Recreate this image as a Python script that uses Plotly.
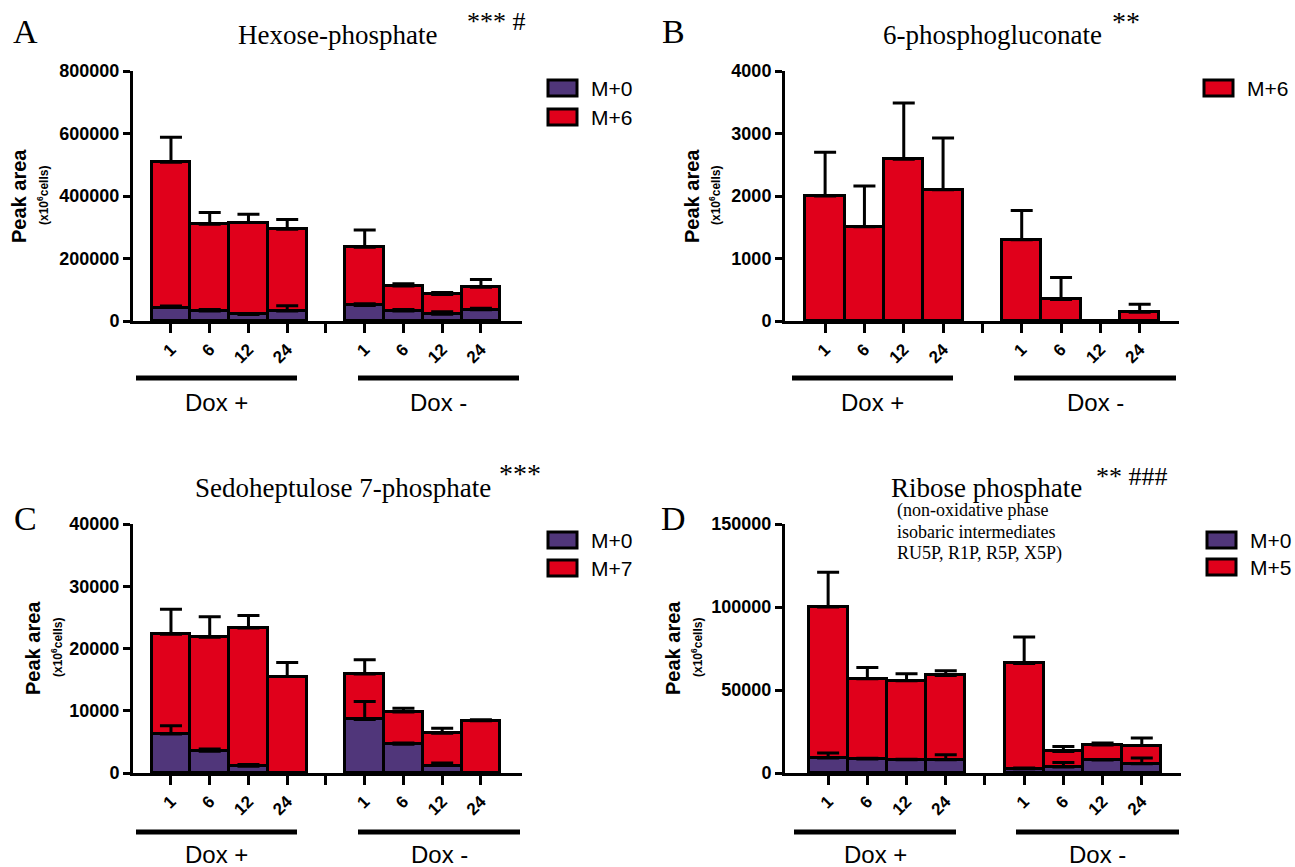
import plotly.graph_objects as go

# ---------------- data ----------------
times = ["1", "6", "12", "24"]
groups = ["Dox +", "Dox -"]

# Panel A: Hexose-phosphate (Dox+ 1,6,12,24 then Dox- 1,6,12,24)
hex_m0 = [43000, 32000, 21000, 32000, 50000, 32000, 22000, 36000]
hex_m0_err = [5000, 5000, 2000, 17000, 5000, 5000, 8000, 5000]
hex_m6 = [465000, 278000, 294000, 262000, 186000, 80000, 63000, 72000]
hex_m6_err = [80000, 37000, 27000, 31000, 55000, 7500, 6500, 25000]

# Panel B: 6-phosphogluconate
pg_m6 = [2000, 1510, 2590, 2100, 1300, 345, 0, 140]
pg_m6_err = [700, 650, 900, 830, 470, 350, 0, 130]

# Panel C: Sedoheptulose 7-phosphate
s7p_m0 = [6250, 3500, 1100, 0, 8600, 4600, 1200, 0]
s7p_m0_err = [1350, 350, 250, 0, 2900, 200, 400, 0]
s7p_m7 = [16050, 18300, 22200, 15500, 7300, 5200, 5200, 8400]
s7p_m7_err = [4000, 3300, 2000, 2250, 2300, 600, 800, 150]

# Panel D: Ribose phosphate
rib_m0 = [9000, 8400, 8000, 8000, 2600, 3600, 7800, 5600]
rib_m0_err = [3000, 500, 300, 3000, 400, 2800, 300, 3400]
rib_m5 = [91000, 48400, 47600, 50800, 63400, 9400, 9000, 10900]
rib_m5_err = [21000, 6800, 4200, 2800, 16000, 3000, 1200, 4600]

# ---------------- styling ----------------
W, H = 1295, 867
RED = "#E0001B"
PURPLE = "#50367A"
ARIAL = "Arial, Liberation Sans, sans-serif"
TIMES = "Times New Roman, Liberation Serif, serif"


def px(x):
    return x / W


def py(y):
    return 1 - y / H


# bar positions: Dox+ at 0..3, gap at 4, Dox- at 5..8
positions = [i for i in range(len(times))] + [i + len(times) + 1 for i in range(len(times))]
separator = len(times)

fig = go.Figure()


def add_bars(m0, m0_err, mh, mh_err, xa, ya):
    base = m0 if m0 is not None else [0] * len(mh)
    fig.add_trace(go.Bar(
        x=positions, y=mh, base=base, width=1,
        marker=dict(color=RED, line=dict(color="black", width=3)),
        error_y=dict(type="data", array=mh_err, symmetric=False,
                     arrayminus=[0] * len(mh), color="black", thickness=3, width=11),
        xaxis=xa, yaxis=ya, showlegend=False))
    if m0 is not None:
        fig.add_trace(go.Bar(
            x=positions, y=m0, width=1,
            marker=dict(color=PURPLE, line=dict(color="black", width=3)),
            error_y=dict(type="data", array=m0_err, symmetric=False,
                         arrayminus=[0] * len(m0), color="black", thickness=3, width=11),
            xaxis=xa, yaxis=ya, showlegend=False))


add_bars(hex_m0, hex_m0_err, hex_m6, hex_m6_err, "x", "y")
add_bars(None, None, pg_m6, pg_m6_err, "x2", "y2")
add_bars(s7p_m0, s7p_m0_err, s7p_m7, s7p_m7_err, "x3", "y3")
add_bars(rib_m0, rib_m0_err, rib_m5, rib_m5_err, "x4", "y4")


def xaxis_cfg(domain, anchor, xr):
    return dict(domain=domain, anchor=anchor, range=xr, tickvals=positions,
                ticktext=times + times, automargin=False,
                tickangle=-45, ticks="outside", ticklen=9, tickwidth=3, tickcolor="black",
                minor=dict(tickvals=[separator], ticks="outside", ticklen=9, tickwidth=3,
                           tickcolor="black", showgrid=False),
                showline=True, linewidth=3, linecolor="black", showgrid=False, zeroline=False,
                tickfont=dict(family=ARIAL, size=17, color="black", weight="bold"), fixedrange=True)


def yaxis_cfg(domain, anchor, ymax, dtick):
    return dict(domain=domain, anchor=anchor, range=[0, ymax], automargin=False,
                tickvals=[dtick * i for i in range(int(round(ymax / dtick)) + 1)],
                tickformat="d",
                ticks="outside", ticklen=7, tickwidth=3, tickcolor="black",
                showline=True, linewidth=3, linecolor="black", showgrid=False, zeroline=False,
                tickfont=dict(family=ARIAL, size=18, color="black", weight="bold"),
                fixedrange=True)


fig.update_layout(
    template="none",
    width=W, height=H, margin=dict(l=0, r=0, t=0, b=0, pad=0, autoexpand=False),
    paper_bgcolor="white", plot_bgcolor="white", barmode="overlay", bargap=0,
    xaxis=xaxis_cfg([px(133), px(522)], "y", [-0.98, 9.06]),
    yaxis=yaxis_cfg([py(321), py(71)], "x", 800000, 200000),
    xaxis2=xaxis_cfg([px(785), px(1179)], "y2", [-1.02, 9.0]),
    yaxis2=yaxis_cfg([py(321), py(71)], "x2", 4000, 1000),
    xaxis3=xaxis_cfg([px(133), px(522)], "y3", [-0.98, 9.06]),
    yaxis3=yaxis_cfg([py(773), py(524)], "x3", 40000, 10000),
    xaxis4=xaxis_cfg([px(785), px(1181)], "y4", [-1.1, 9.0]),
    yaxis4=yaxis_cfg([py(773), py(524)], "x4", 150000, 50000),
)

annotations = []
shapes = []


def text(x, y, s, size, family=TIMES, xanchor="center", yanchor="middle", align="center",
         angle=0, weight="normal"):
    annotations.append(dict(x=px(x), y=py(y), xref="paper", yref="paper", text=s, showarrow=False,
                            xanchor=xanchor, yanchor=yanchor, align=align, textangle=angle,
                            font=dict(family=family, size=size, color="black", weight=weight)))


# y-axis titles
for xt, xs, yc in [(19, 43, 196), (692, 715, 196), (33, 57, 648), (673, 697, 648)]:
    text(xt, yc, "Peak area", 20, family=ARIAL, angle=-90, weight="bold")
    text(xs, yc, "(x10<sup>6</sup>cells)", 12, family=ARIAL, angle=-90, weight="bold")

# panel letters
text(25, 31, "A", 34)
text(673, 31, "B", 34)
text(25, 518, "C", 34)
text(673, 518, "D", 34)

# titles
text(337, 35, "Hexose-phosphate", 27)
text(496, 22, "*** #", 26)
text(993, 35, "6-phosphogluconate", 27)
text(1126, 22, "**", 28)
text(343, 488, "Sedoheptulose 7-phosphate", 27)
text(520, 473, "***", 28)
text(986, 488, "Ribose phosphate", 27)
text(1132, 476, "** ###", 26)
for yy, s in zip([511, 532, 553], ["(non-oxidative phase", "isobaric intermediates",
                                    "RU5P, R1P, R5P, X5P)"]):
    text(895, yy, s, 18, xanchor="left", align="left")


# legends
def legend(x0, ys, labels, colors):
    for yy, lab, col in zip(ys, labels, colors):
        shapes.append(dict(type="rect", xref="paper", yref="paper",
                           x0=px(x0), x1=px(x0 + 29), y0=py(yy - 8), y1=py(yy + 8),
                           fillcolor=col, line=dict(color="black", width=3)))
        text(x0 + 41, yy, lab, 21, family=ARIAL, xanchor="left")


legend(548, [88, 117], ["M+0", "M+6"], [PURPLE, RED])
legend(1204, [88], ["M+6"], [RED])
legend(548, [540, 568], ["M+0", "M+7"], [PURPLE, RED])
legend(1207, [540, 567], ["M+0", "M+5"], [PURPLE, RED])


# Dox group lines and labels
def dox(x_plus, x_minus, yline, ytext):
    for (a, b), lab in zip([x_plus, x_minus], groups):
        shapes.append(dict(type="line", xref="paper", yref="paper",
                           x0=px(a), x1=px(b), y0=py(yline), y1=py(yline),
                           line=dict(color="black", width=5)))
        text((a + b) / 2, ytext, lab, 24, family=ARIAL)


dox((136, 297), (358, 519), 378, 403)
dox((792, 953), (1014, 1176), 378, 403)
dox((136, 297), (358, 520), 832, 854)
dox((794, 956), (1016, 1179), 832, 854)

fig.update_layout(annotations=annotations, shapes=shapes)
fig.write_html("out.html", config={"displayModeBar": False},
               post_script="document.body.style.margin='0';document.body.style.overflow='hidden';")
